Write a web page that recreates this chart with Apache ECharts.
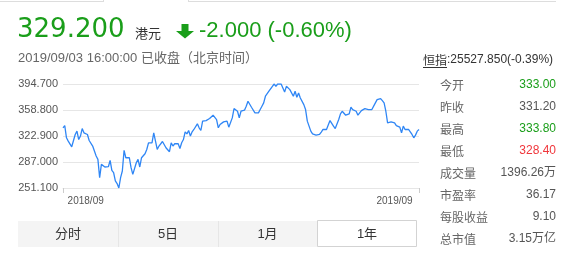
<!DOCTYPE html>
<html>
<head>
<meta charset="utf-8">
<script src="https://cdn.jsdelivr.net/npm/echarts@6/dist/echarts.min.js"></script>
<style>
html,body{margin:0;padding:0;background:#fff;}
#c{width:574px;height:253px;}
</style>
</head>
<body>
<div id="c"></div>
<script>
// ---- data ----
var prices = [
334.2, 337.3, 320.4, 315.9, 313.5, 308, 307.6, 325, 329.6, 318,
322.8, 333.2, 327.3, 329.6, 325, 316.7, 315.9, 309, 302.1, 295.2,
290.6, 265.4, 283.7, 286, 280.1, 280.1, 280.5, 289.2, 275.4, 272.3,
260.9, 257.2, 251.1, 265.4, 274.6, 303, 292.9, 292, 292.9, 279.2,
269.9, 270.9, 286, 290.6, 280.1, 292.9, 290.6, 298.4, 304.3, 313.5,
311.2,
313.5, 327.3, 315.9, 304.3, 309, 306.7, 315.3, 318, 306.7, 304.3,
301.2, 313.5, 309, 312.2, 311.2, 312.2, 305.7, 313.5, 318, 328.7,
325.9, 330.5, 322.8, 328.7, 331.9, 334.2, 339.7, 334.2, 330.5, 343.4,
342.4, 344.2, 345.6, 347, 348.9, 351.6, 348.9, 345.6, 334.2, 338.7,
336.5, 342.4, 343.4, 343.4, 335.1, 335.1, 347.9, 360.7, 361.7, 357.1,
347.9,
357.1, 357.1, 358.5, 364, 370.9, 369.9, 362.6, 361.7, 354.8, 352.5,
354.8, 359.4, 364, 368.6, 377.8, 379.2, 384.7, 386.9, 391.5, 394.7,
391.5, 394.7, 393.7, 394.7, 392.9, 383.7, 391.5, 391.5, 386.9, 384.7,
377.8, 384.7, 376.4, 382.3, 375.4, 373.1, 366.2, 359.4, 343.4, 341.1,
329.6, 325.9, 325, 324.1, 322.8, 325, 328.3, 331.9, 329.6, 331.9,
331.9, 344.2, 345.6, 336.5, 333.2, 330.5, 345.6, 353.4, 357.1, 357.1,
351.6, 352.5, 353.4, 362.6, 359.4, 360.7, 357.1, 351.6, 354.8, 358,
355.8, 360.7, 362.6, 359.4, 358, 359.4, 357.1, 368.6, 373.1, 371.7,
374.5, 371.7, 368.6, 357.1, 341.1, 338.7, 342.4, 339.7, 341.1, 337.3,
338.7, 335.1, 327.3, 336.5, 331.9, 334.2, 331.9, 328.7, 325, 320.4,
324.1, 329.6, 331.9
];
var xTickLabels = ['2018/09', '2019/09'];
var xTickIndex = [13, 190];
var yMin = 251.1, yMax = 394.7, yStep = 35.9;

var lastPrice = '329.200';
var currency = '港元';
var change = '-2.000 (-0.60%)';
var timeText = '2019/09/03 16:00:00 已收盘（北京时间）';
var indexName = '恒指';
var indexText = ':25527.850(-0.39%)';
var statLabels = ['今开', '昨收', '最高', '最低', '成交量', '市盈率', '每股收益', '总市值'];
var statValues = ['333.00', '331.20', '333.80', '328.40', '1396.26万', '36.17', '9.10', '3.15万亿'];
var statKinds = ['up', 'flat', 'up', 'down', 'flat', 'flat', 'flat', 'flat'];
var tabs = ['分时', '5日', '1月', '1年'];
var activeTab = 3;

// ---- chart ----
var categories = prices.map(function (_, i) { return i; });
var GREEN = '#1a9e1a', RED = '#f0363b', GRAY = '#555';
var CJK = '"Noto Sans CJK SC", "Liberation Sans", sans-serif';
var MIX = '"Liberation Sans", "Noto Sans CJK SC", sans-serif';
var LAT = '"Liberation Sans", Arial, sans-serif';

var graphic = [];
// top cut tab borders
graphic.push({type:'line', shape:{x1:0,y1:1.5,x2:103.5,y2:1.5}, style:{stroke:'#ddd',lineWidth:1}});
graphic.push({type:'line', shape:{x1:103.5,y1:0,x2:103.5,y2:2}, style:{stroke:'#ddd',lineWidth:1}});
graphic.push({type:'line', shape:{x1:188.5,y1:0,x2:188.5,y2:2}, style:{stroke:'#ddd',lineWidth:1}});
graphic.push({type:'line', shape:{x1:188.5,y1:1.5,x2:556,y2:1.5}, style:{stroke:'#ddd',lineWidth:1}});

// header
graphic.push({type:'text', x:17, y:30, style:{text:lastPrice, font:'26px "DejaVu Sans", sans-serif', fill:GREEN, verticalAlign:'middle'}});
graphic.push({type:'text', x:135, y:33, style:{text:currency, font:'13px ' + CJK, fill:'#333', verticalAlign:'middle'}});
graphic.push({type:'polygon', shape:{points:[[181.5,24],[188.5,24],[188.5,31],[194,31],[185,38.5],[176,31],[181.5,31]]}, style:{fill:GREEN}});
graphic.push({type:'text', x:199, y:31, style:{text:change, font:'22px ' + LAT, fill:GREEN, verticalAlign:'middle'}});
graphic.push({type:'text', x:18, y:58.5, style:{text:timeText, font:'13px ' + MIX, fill:'#666', verticalAlign:'middle'}});

// index
graphic.push({type:'text', x:423, y:60, style:{text:indexName, font:'12px ' + CJK, fill:'#333', verticalAlign:'middle'}});
graphic.push({type:'line', shape:{x1:423,y1:67.5,x2:447,y2:67.5}, style:{stroke:'#333',lineWidth:1}});
graphic.push({type:'text', x:447, y:60, style:{text:indexText, font:'12px ' + LAT, fill:'#333', verticalAlign:'middle'}});

// stats
statLabels.forEach(function (lab, i) {
  var y = 85 + i * 22;
  graphic.push({type:'text', x:440, y:y, style:{text:lab, font:'12px ' + CJK, fill:'#666', verticalAlign:'middle'}});
  var col = statKinds[i] === 'up' ? GREEN : (statKinds[i] === 'down' ? RED : GRAY);
  graphic.push({type:'text', x:556, y:y, style:{text:statValues[i], font:'12px ' + MIX, fill:col, align:'right', verticalAlign:'middle'}});
});

// tabs
var tabX = [18, 118, 218, 317, 417];
tabs.forEach(function (t, i) {
  var x0 = tabX[i], x1 = tabX[i + 1];
  var active = i === activeTab;
  graphic.push({type:'rect', shape:{x:x0 + (active ? 0.5 : 0), y:active ? 220.5 : 221, width:x1 - x0 - (active ? 1 : 0), height:26},
    style:{fill: active ? '#fff' : '#f4f4f4', stroke: active ? '#d3d3d3' : null, lineWidth:1}});
  if (!active && i > 0) {
    graphic.push({type:'line', shape:{x1:x0 + 0.5, y1:221, x2:x0 + 0.5, y2:247}, style:{stroke:'#e6e6e6', lineWidth:1}});
  }
  graphic.push({type:'text', x:(x0 + x1) / 2, y:234, style:{text:t, font:'13px ' + MIX, fill:'#333', align:'center', verticalAlign:'middle'}});
});

var chart = echarts.init(document.getElementById('c'), null, {renderer:'canvas'});
chart.setOption({
  animation: false,
  grid: {left: 63, right: 155, top: 84, bottom: 65},
  xAxis: {
    type: 'category',
    data: categories,
    boundaryGap: false,
    axisLine: {show: true, lineStyle: {color: '#e6e6e6'}},
    axisTick: {
      show: true, length: 5, lineStyle: {color: '#ccc'},
      interval: function (i) { return i === 0 || i === prices.length - 1; }
    },
    axisLabel: {
      interval: function (i) { return xTickIndex.indexOf(i) >= 0; },
      formatter: function (v, i) { var k = xTickIndex.indexOf(i); return k >= 0 ? xTickLabels[k] : ''; },
      color: '#555', fontSize: 10, fontFamily: 'Liberation Sans', margin: 8
    },
    splitLine: {show: false}
  },
  yAxis: {
    type: 'value',
    min: yMin, max: yMax + 0.0001, interval: yStep,
    axisLine: {show: false}, axisTick: {show: false},
    axisLabel: {formatter: function (v) { return v.toFixed(3); }, color: '#555', fontSize: 11, fontFamily: 'Liberation Sans', margin: 5},
    splitLine: {lineStyle: {color: '#e6e6e6'}}
  },
  series: [{
    type: 'line', data: prices, showSymbol: false, symbol: 'none',
    lineStyle: {color: '#2f86f5', width: 1.3}
  }],
  graphic: graphic
});
</script>
</body>
</html>
